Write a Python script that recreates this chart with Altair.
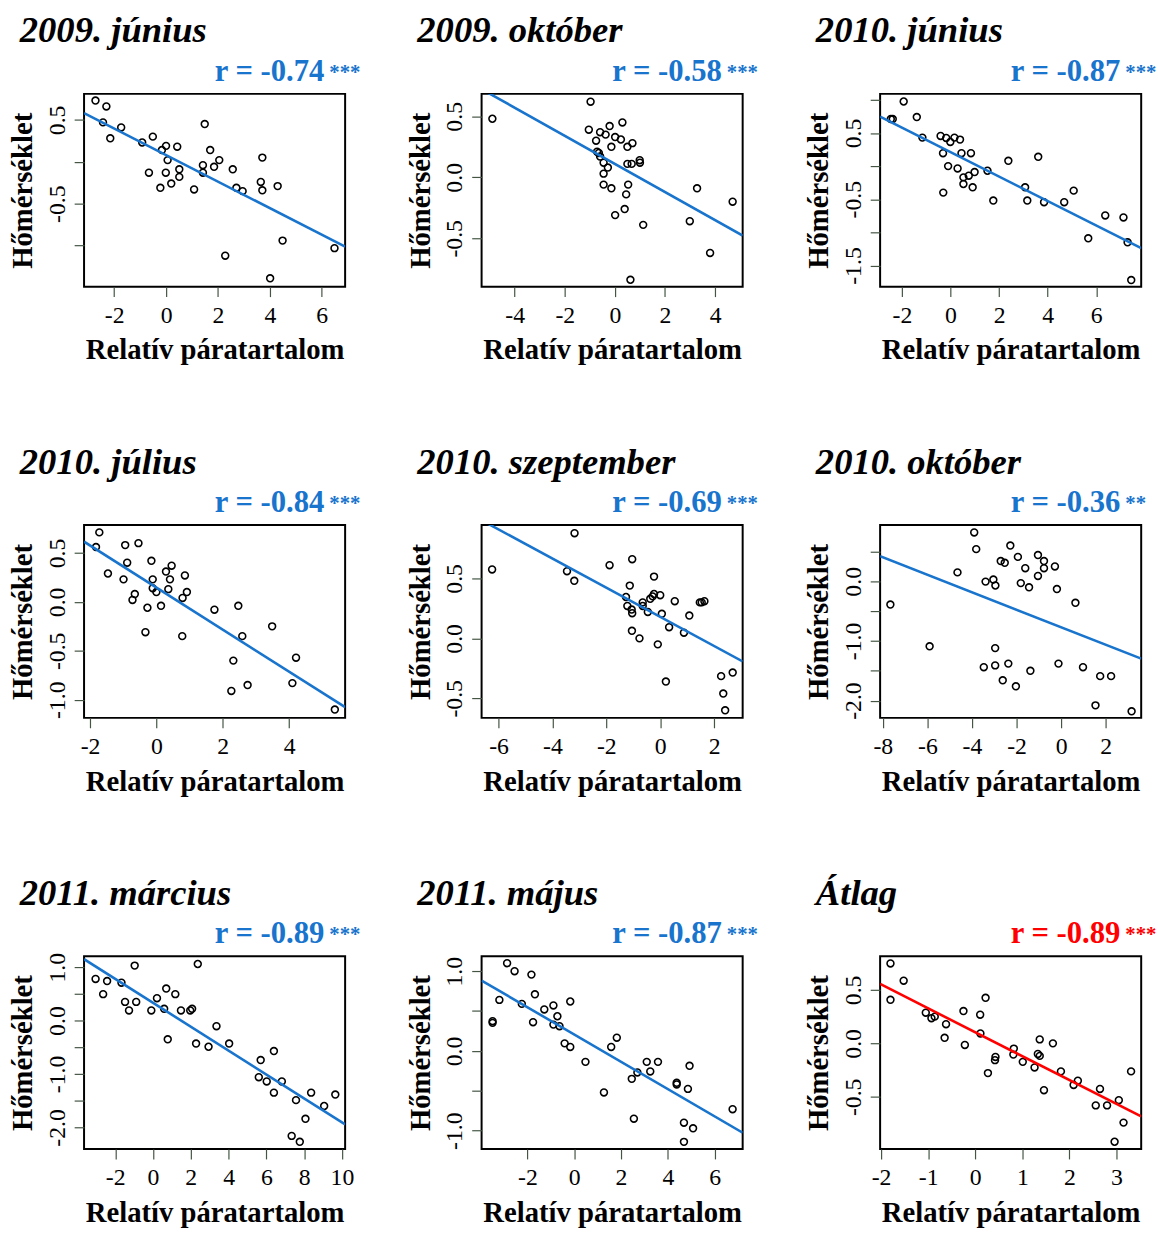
import altair as alt
import pandas as pd

SERIF = "Liberation Serif"
BLUE = "#1874CD"
RED = "#FF0000"
TICK = "#445544"

titles = ["2009. június", "2009. október", "2010. június",
          "2010. július", "2010. szeptember", "2010. október",
          "2011. március", "2011. május", "Átlag"]
r_values = ["-0.74", "-0.58", "-0.87", "-0.84", "-0.69", "-0.36", "-0.89", "-0.87", "-0.89"]
stars = ["***", "***", "***", "***", "***", "**", "***", "***", "***"]
line_colors = [BLUE] * 8 + [RED]

# relative humidity (x) and temperature (y) anomalies per period
x_jun09 = [-2.72, -2.30, -2.43, -1.73, -2.15, -0.92, -0.51, 1.49, 0.00, -0.16, 0.43, 0.06, 1.70, -0.66, -0.01,
           0.51, 0.51, 0.20, -0.22, 1.08, 1.42, 1.42, 1.85, 2.05, 2.57, 2.71, 2.95, 3.71, 3.65, 3.71, 4.30, 4.49,
           2.28, 4.01, 6.49]
y_jun09 = [0.73, 0.66, 0.47, 0.41, 0.28, 0.23, 0.30, 0.45, 0.19, 0.14, 0.18, 0.02, 0.14, -0.13, -0.13,
           -0.09, -0.18, -0.26, -0.31, -0.33, -0.04, -0.13, -0.06, 0.02, -0.09, -0.31, -0.35, 0.05, -0.24, -0.34,
           -0.29, -0.94, -1.12, -1.39, -1.03]

x_okt09 = [-4.89, -0.97, -1.04, -0.59, -0.21, -0.37, 0.30, 0.01, 0.24, -0.75, 0.70, 0.50, -0.14, -0.71, -0.64,
           -0.59, -0.45, -0.28, -0.45, 0.50, 0.67, 0.99, 1.00, -0.45, -0.14, 0.53, 0.45, 0.39, 0.01, 1.13, 0.62,
           2.99, 3.28, 3.80, 4.70]
y_okt09 = [0.48, 0.62, 0.39, 0.37, 0.42, 0.35, 0.45, 0.33, 0.31, 0.30, 0.28, 0.25, 0.25, 0.21, 0.20, 0.17, 0.12,
           0.08, 0.03, 0.11, 0.11, 0.14, 0.12, -0.06, -0.09, -0.06, -0.14, -0.26, -0.31, -0.39, -0.84, -0.36,
           -0.09, -0.62, -0.20]

x_jun10 = [-1.93, -2.46, -2.38, -1.39, -1.16, -0.41, -0.18, -0.01, 0.16, 0.39, -0.31, 0.45, 0.84, -0.10, 0.29,
           0.99, 0.75, 0.53, 0.53, 0.91, 1.52, -0.30, 1.76, 2.38, 3.61, 3.07, 3.16, 3.85, 4.68, 5.07, 5.67, 6.37,
           7.12, 7.29, 7.44]
y_jun10 = [0.975, 0.71, 0.71, 0.74, 0.43, 0.455, 0.425, 0.365, 0.43, 0.40, 0.195, 0.195, 0.195, 0.0, -0.035,
           -0.09, -0.145, -0.17, -0.27, -0.32, -0.07, -0.40, -0.52, 0.08, 0.14, -0.32, -0.52, -0.545, -0.545,
           -0.37, -1.09, -0.745, -0.775, -1.15, -1.72]

x_jul10 = [-1.72, -1.82, -1.46, -0.94, -0.54, -0.88, -0.99, -0.65, -0.72, -0.15, -0.11, -0.11, 0.00, 0.29, 0.46,
           0.41, 0.36, 0.86, 0.92, 0.79, -0.27, 0.14, -0.33, 0.78, 1.75, 2.47, 2.59, 3.49, 2.32, 2.26, 2.75, 4.21,
           4.10, 5.38]
y_jul10 = [0.71, 0.56, 0.29, 0.58, 0.60, 0.40, 0.23, 0.08, 0.02, 0.42, 0.23, 0.14, 0.10, 0.31, 0.37, 0.23, 0.13,
           0.27, 0.10, 0.04, -0.06, -0.04, -0.31, -0.35, -0.08, -0.04, -0.35, -0.25, -0.60, -0.91, -0.85, -0.57,
           -0.83, -1.10]

x_szep10 = [-6.24, -3.18, -3.46, -3.19, -1.88, -1.04, -1.13, -0.23, -1.27, -1.22, -1.06, -1.04, -0.65, -0.65,
            -0.46, -0.37, -0.28, -0.23, 0.00, 0.06, 0.54, 1.08, 1.47, 1.54, 1.64, 0.33, 0.88, -1.05, -0.77, -0.09,
            0.21, 2.26, 2.69, 2.34, 2.41]
y_szep10 = [0.575, 0.877, 0.56, 0.48, 0.61, 0.66, 0.44, 0.515, 0.345, 0.27, 0.24, 0.21, 0.30, 0.27, 0.22, 0.33,
            0.35, 0.37, 0.36, 0.205, 0.31, 0.19, 0.30, 0.30, 0.31, 0.093, 0.047, 0.063, 0.0, -0.05, -0.36, -0.315,
            -0.285, -0.46, -0.60]

x_okt10 = [-7.66, -5.90, -3.90, -3.81, -4.65, -3.39, -3.04, -2.95, -2.71, -2.53, -2.28, -1.94, -1.81, -1.61,
           -1.44, -1.04, -0.77, -0.77, -1.04, -0.28, -0.19, 0.64, -3.47, -2.96, -2.96, -2.37, -2.62, -2.03, -1.38,
           -0.12, 0.98, 1.75, 2.24, 1.54, 3.16]
y_okt10 = [-0.39, -1.09, 0.82, 0.54, 0.15, -0.005, 0.03, -0.07, 0.34, 0.31, 0.60, 0.41, -0.03, 0.22, -0.10, 0.44,
           0.34, 0.22, 0.09, 0.25, -0.13, -0.36, -1.44, -1.12, -1.41, -1.38, -1.66, -1.76, -1.50, -1.38, -1.44,
           -1.59, -1.59, -2.08, -2.18]

x_mar11 = [-3.04, -2.64, -2.43, -1.67, -0.97, -1.48, -1.27, -0.89, -0.09, 0.21, 0.59, 0.70, 1.18, 1.48, 1.97,
           2.07, 2.37, 0.78, 2.28, 2.94, 3.36, 4.03, 5.70, 5.60, 6.02, 6.40, 6.40, 6.82, 7.57, 8.37, 8.07, 7.34,
           7.77, 9.06, 9.65]
y_mar11 = [0.78, 0.495, 0.74, 0.71, 1.03, 0.35, 0.19, 0.35, 0.19, 0.42, 0.22, 0.60, 0.495, 0.19, 0.19, 0.22,
           1.06, -0.35, -0.43, -0.49, -0.105, -0.43, -0.74, -1.06, -1.14, -0.57, -1.35, -1.14, -1.49, -1.35,
           -1.84, -2.16, -2.27, -1.60, -1.385]

x_maj11 = [-3.49, -3.49, -3.20, -2.87, -2.55, -1.83, -1.68, -2.24, -1.76, -1.28, -0.89, -0.72, -0.89, -0.63,
           -0.17, -0.41, -0.17, 0.48, 1.27, 1.58, 1.82, 2.46, 2.70, 2.55, 3.10, 3.25, 3.58, 4.38, 4.38, 4.86,
           4.93, 4.69, 5.08, 4.69, 6.77]
y_maj11 = [0.373, 0.352, 0.64, 1.10, 1.0, 0.957, 0.71, 0.59, 0.36, 0.52, 0.57, 0.435, 0.33, 0.31, 0.62, 0.095,
           0.05, -0.137, -0.52, 0.05, 0.166, -0.35, -0.27, -0.85, -0.137, -0.257, -0.137, -0.40, -0.42, -0.476,
           -0.186, -0.90, -0.97, -1.14, -0.73]

x_atlag = [-1.80, -1.80, -1.52, -1.05, -0.93, -0.86, -0.62, -0.65, -0.25, -0.22, 0.105, 0.11, 0.22, 0.27, 0.43,
           0.42, 0.82, 0.81, 1.01, 1.26, 1.33, 1.37, 1.37, 1.46, 1.65, 1.82, 2.09, 2.18, 2.56, 2.65, 2.80, 3.05,
           3.15, 2.96, 3.31]
y_atlag = [0.747, 0.407, 0.586, 0.287, 0.235, 0.25, 0.179, 0.052, 0.302, -0.015, 0.268, 0.093, 0.426, -0.278,
           -0.127, -0.157, -0.049, -0.105, -0.173, -0.225, -0.099, -0.117, 0.037, -0.438, 0.0, -0.262, -0.389,
           -0.349, -0.58, -0.426, -0.58, -0.531, -0.741, -0.92, -0.262]

xs = [x_jun09, x_okt09, x_jun10, x_jul10, x_szep10, x_okt10, x_mar11, x_maj11, x_atlag]
ys = [y_jun09, y_okt09, y_jun10, y_jul10, y_szep10, y_okt10, y_mar11, y_maj11, y_atlag]

x_domains = [[-3.16, 6.9], [-5.32, 5.1], [-2.9, 7.85], [-2.18, 5.69], [-6.63, 3.06],
             [-8.12, 3.59], [-3.65, 10.17], [-3.96, 7.2], [-2.02, 3.525]]
y_domains = [[-1.49, 0.81], [-0.897, 0.684], [-1.82, 1.09], [-1.185, 0.785], [-0.663, 0.945],
             [-2.29, 0.944], [-2.406, 1.206], [-1.23, 1.188], [-0.988, 0.815]]

x_ticks = [[-2, 0, 2, 4, 6], [-4, -2, 0, 2, 4], [-2, 0, 2, 4, 6], [-2, 0, 2, 4], [-6, -4, -2, 0, 2],
           [-8, -6, -4, -2, 0, 2], [-2, 0, 2, 4, 6, 8, 10], [-2, 0, 2, 4, 6], [-2, -1, 0, 1, 2, 3]]
y_ticks = [[-1.5, -1, -0.5, 0, 0.5], [-0.5, 0, 0.5], [-1.5, -1, -0.5, 0, 0.5, 1], [-1, -0.5, 0, 0.5],
           [-0.5, 0, 0.5], [-2, -1.5, -1, -0.5, 0, 0.5], [-2, -1.5, -1, -0.5, 0, 0.5, 1],
           [-1, -0.5, 0, 0.5, 1], [-0.5, 0, 0.5]]
y_labelled = [[-1.5, -0.5, 0.5], [-0.5, 0, 0.5], [-1.5, -0.5, 0.5], [-1, -0.5, 0, 0.5], [-0.5, 0, 0.5],
              [-2, -1, 0], [-2, -1, 0, 1], [-1, 0, 1], [-0.5, 0, 0.5]]

W, H = 264, 195
MINUS = "\u2212"


def panel(i):
    df = pd.DataFrame({"x": xs[i], "y": ys[i]})
    lab = ",".join(str(v) for v in y_labelled[i])
    x_enc = alt.X(
        "x:Q",
        scale=alt.Scale(domain=x_domains[i], nice=False, zero=False),
        axis=alt.Axis(values=x_ticks[i], title="Relatív páratartalom",
                      labelExpr=f"replace(format(datum.value, 'd'), '{MINUS}', '-')"),
    )
    y_enc = alt.Y(
        "y:Q",
        scale=alt.Scale(domain=y_domains[i], nice=False, zero=False),
        axis=alt.Axis(values=y_ticks[i], title="Hőmérséklet",
                      labelExpr=f"indexof([{lab}], datum.value) >= 0 ? "
                                f"replace(format(datum.value, '.1f'), '{MINUS}', '-') : ''"),
    )
    base = alt.Chart(df)
    pts = base.mark_point(shape="circle", filled=False, color="black", size=48,
                          strokeWidth=1.6, opacity=1).encode(x=x_enc, y=y_enc)
    fit = base.transform_regression("x", "y", extent=x_domains[i]).mark_line(
        color=line_colors[i], strokeWidth=2.6, clip=True).encode(x=x_enc, y=y_enc)

    head = alt.Chart(pd.DataFrame({"t": [titles[i]]})).mark_text(
        font=SERIF, fontSize=37, fontStyle="italic", fontWeight="bold", color="black",
        align="left", baseline="alphabetic").encode(x=alt.value(-65), y=alt.value(-52), text="t:N")
    rlab = alt.Chart(pd.DataFrame({"t": ["r = " + r_values[i]]})).mark_text(
        font=SERIF, fontSize=31, fontWeight="bold", color=line_colors[i],
        align="right", baseline="alphabetic").encode(x=alt.value(W - 21), y=alt.value(-13), text="t:N")
    star = alt.Chart(pd.DataFrame({"t": [stars[i]]})).mark_text(
        font=SERIF, fontSize=21, fontWeight="bold", color=line_colors[i],
        align="left", baseline="alphabetic").encode(x=alt.value(W - 16), y=alt.value(-15), text="t:N")
    return alt.layer(pts, fit, head, rlab, star).properties(width=W, height=H)


chart = alt.concat(*[panel(i) for i in range(9)], columns=3,
                   spacing={"row": 78, "column": 44}).properties(
    padding={"left": 8, "top": 5, "right": 0, "bottom": 0},
    background="white",
).configure_view(
    stroke="black", strokeWidth=2
).configure_axis(
    grid=False, domain=False, tickColor=TICK, tickSize=10, tickWidth=1.2,
    labelFont=SERIF, labelFontSize=24, labelColor="black", labelFlush=False, labelOverlap=False,
    titleFont=SERIF, titleFontSize=29, titleFontWeight="bold", titleColor="black",
).configure_axisY(
    labelAngle=270, labelAlign="center", labelBaseline="bottom", labelPadding=5, titlePadding=8,
).configure_axisX(
    labelPadding=7, titlePadding=9,
)

chart.save("out.html", embed_options={"renderer": "svg", "actions": False})
